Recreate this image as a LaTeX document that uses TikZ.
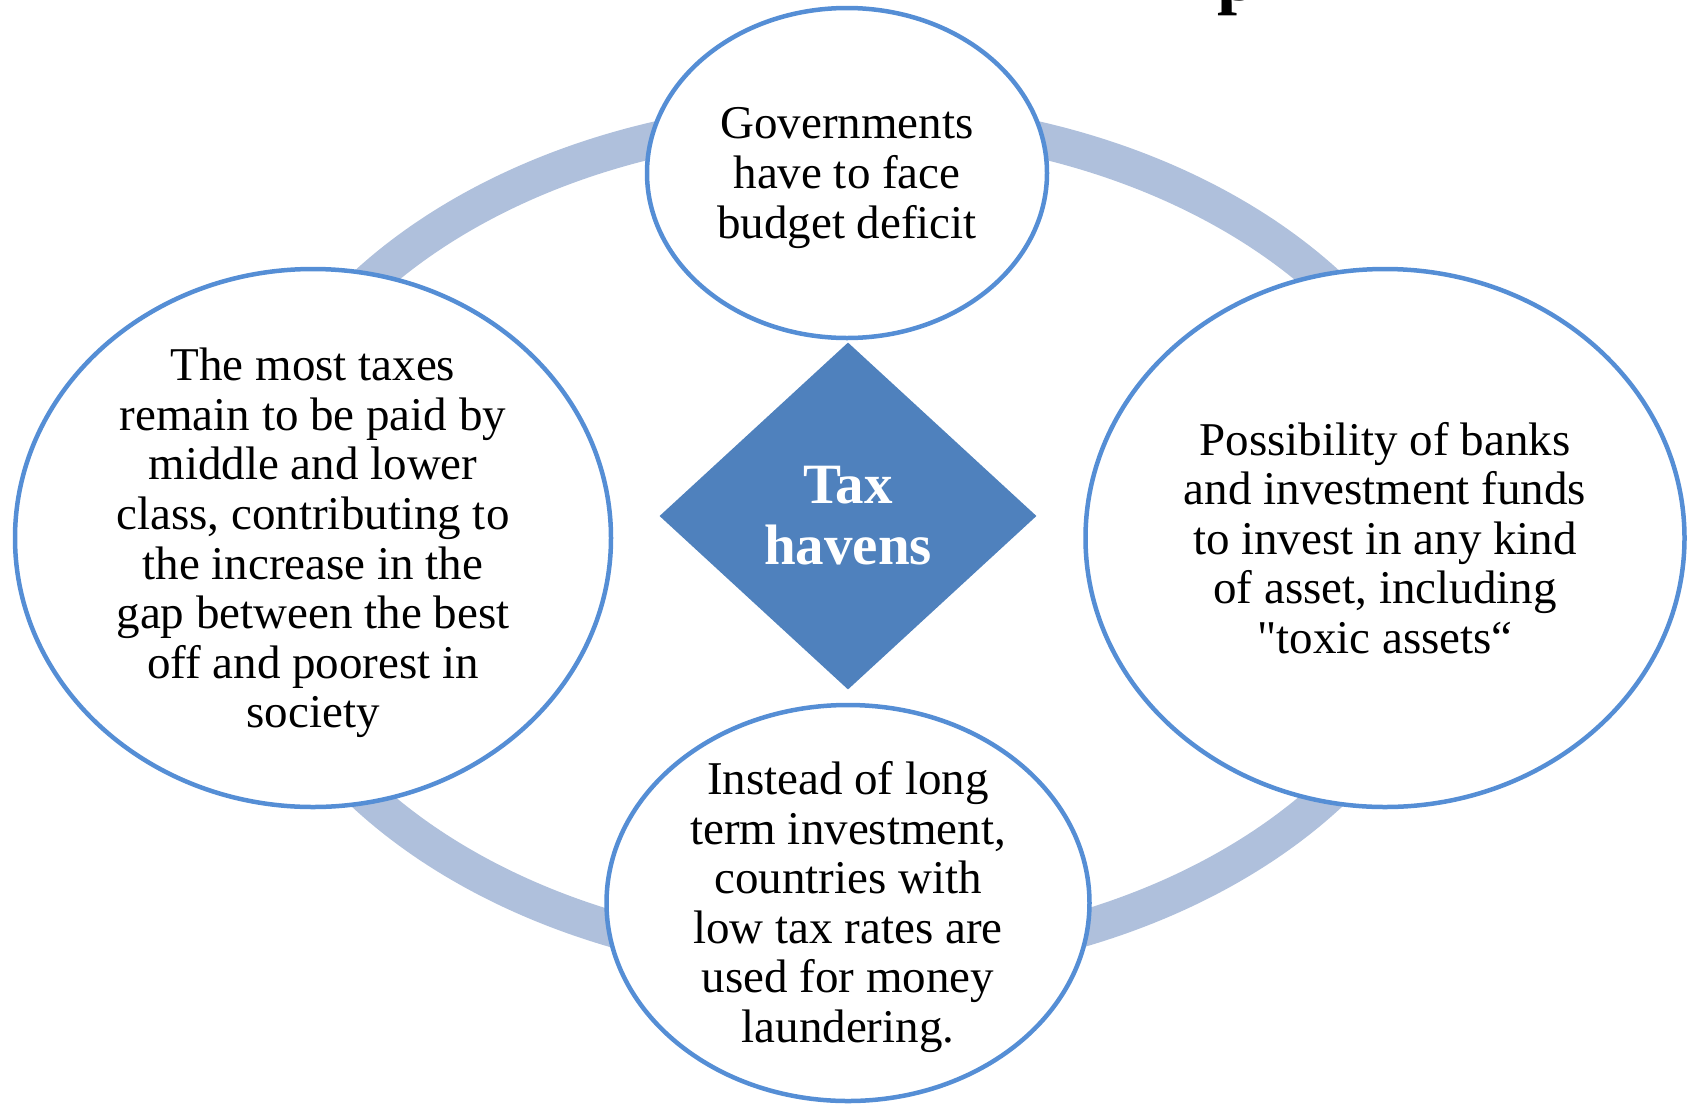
\documentclass[tikz,border=0pt]{standalone}
\usepackage{fontspec}
\setmainfont{Liberation Serif}
\newfontfamily\qfont{Liberation Serif}[Ligatures=TeXOff]
\usetikzlibrary{shapes.geometric}
\definecolor{ringc}{HTML}{AFC0DC}
\definecolor{edgec}{HTML}{558ED5}
\definecolor{diac}{HTML}{4F81BD}
\begin{document}
\begin{tikzpicture}[x=1pt,y=-1pt,
  bubble/.style={ellipse, draw=edgec, line width=4.5pt, fill=white, inner sep=0pt},
  txt/.style={align=center, font=\fontsize{47}{49.6}\selectfont, inner sep=0pt},
  hub/.style={diamond, fill=diac, inner sep=0pt, minimum width=377pt, minimum height=347pt,
    text=white, align=center, font=\fontsize{57}{61}\selectfont\bfseries},
  ring/.style={draw=ringc, line width=36pt}]
\useasboundingbox (0,0) rectangle (1690,1104);
\begin{scope}
\clip (0,0) rectangle (1690,1104);
\node[anchor=base west, inner sep=0pt, font=\fontsize{72}{72}\selectfont\bfseries] (frag) at (1217,0) {p};
\coordinate (rc) at (847,540);
\draw[ring] (rc) ellipse [x radius=604pt, y radius=422pt];
\end{scope}
\node[bubble, minimum width=400pt, minimum height=330pt] (top) at (847,173) {};
\node[bubble, minimum width=596pt, minimum height=538pt] (left) at (313,538) {};
\node[bubble, minimum width=599pt, minimum height=538pt] (right) at (1385,538) {};
\node[bubble, minimum width=483pt, minimum height=396pt] (bottom) at (848,903) {};
\node[hub] (hub) at (848,516) {Tax\\havens};
\node[txt] (ttop) at ([yshift=-5pt]top.center) {Governments\\have to face\\budget deficit};
\node[txt] (tleft) at ([yshift=-5pt]left.center) {The most taxes\\remain to be paid by\\middle and lower\\class, contributing to\\the increase in the\\gap between the best\\off and poorest in\\society};
\node[txt] (tright) at (right.center) {Possibility of banks\\and investment funds\\to invest in any kind\\of asset, including\\{\qfont"}toxic assets“};
\node[txt] (tbottom) at ([yshift=-4pt]bottom.center) {Instead of long\\term investment,\\countries with\\low tax rates are\\used for money\\laundering.};
\end{tikzpicture}
\end{document}
